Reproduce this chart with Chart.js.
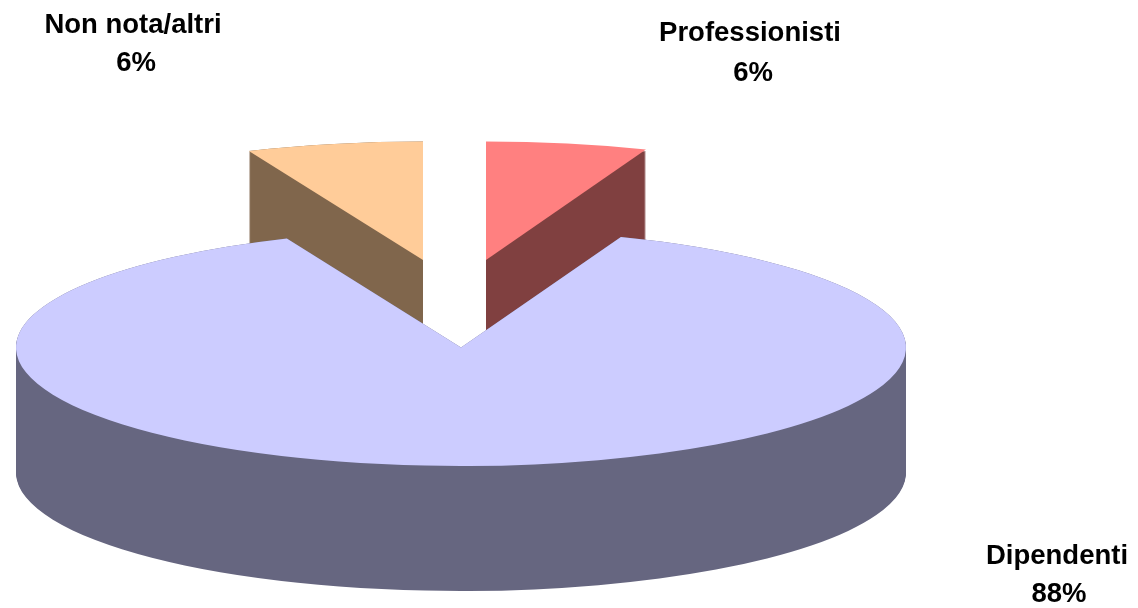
<!DOCTYPE html>
<html>
<head>
<meta charset="utf-8">
<style>
  html, body { margin: 0; padding: 0; background: #fff; }
  canvas { display: block; }
</style>
<script src="https://cdn.jsdelivr.net/npm/chart.js@4"></script>
</head>
<body>
<canvas id="pieChart" width="1138" height="608"></canvas>
<script>
// Data
var categories = ['Professionisti', 'Dipendenti', 'Non nota/altri'];
var shares = [5.85, 87.75, 6.4];

// Colours, same order as categories
var topColors = ['#FF8080', '#CCCCFF', '#FFCC99'];
var wallColors = ['#804040', '#666680', '#80664C'];

// Fake 3D view: ellipse radii, wall depth, where each slice's apex lands
var radiusX = 445;
var radiusY = 118.5;
var depth = 125;
var apexes = [[486, 260], [461, 347.5], [423, 260]];
var wallGaps = [2, 0, 0];
// name x, name baseline, percent x, percent baseline
var labelSpots = [[750, 41, 753, 81], [1057, 564, 1059, 602], [133, 33, 136, 71]];

function drawSlice(ctx, el, i, shift, color) {
  var slice = Object.create(el);
  slice.options = Object.create(el.options);
  slice.options.backgroundColor = color;
  ctx.save();
  ctx.translate(apexes[i][0], apexes[i][1] + shift);
  ctx.scale(radiusX / el.outerRadius, radiusY / el.outerRadius);
  ctx.translate(-el.x, -el.y);
  slice.draw(ctx);
  ctx.restore();
}

function drawBlock(chart, arcs, i) {
  // walls go on a scratch canvas and get one flat fill, stacking them directly leaves streaks
  var layer = document.createElement('canvas');
  layer.width = chart.width;
  layer.height = chart.height;
  var lctx = layer.getContext('2d');
  for (var s = depth; s >= wallGaps[i]; s--) {
    drawSlice(lctx, arcs[i], i, s, wallColors[i]);
  }
  lctx.globalCompositeOperation = 'source-in';
  lctx.fillStyle = wallColors[i];
  lctx.fillRect(0, 0, layer.width, layer.height);
  chart.ctx.drawImage(layer, 0, 0);
  drawSlice(chart.ctx, arcs[i], i, 0, topColors[i]);
}

var pie3d = {
  id: 'pie3d',
  beforeDatasetsDraw: function(chart) {
    var arcs = chart.getDatasetMeta(0).data;
    // back slices first, the big one sits in front of them
    drawBlock(chart, arcs, 0);
    drawBlock(chart, arcs, 2);
    drawBlock(chart, arcs, 1);
    return false;
  },
  afterDraw: function(chart) {
    var ctx = chart.ctx;
    ctx.save();
    ctx.fillStyle = '#000';
    ctx.font = 'bold 27.5px "Liberation Sans", Arial, sans-serif';
    ctx.textAlign = 'center';
    ctx.textBaseline = 'alphabetic';
    categories.forEach(function(name, i) {
      ctx.fillText(name, labelSpots[i][0], labelSpots[i][1]);
      ctx.fillText(Math.round(shares[i]) + '%', labelSpots[i][2], labelSpots[i][3]);
    });
    ctx.restore();
  }
};

var ctx = document.getElementById('pieChart').getContext('2d');
var pieChart = new Chart(ctx, {
  type: 'pie',
  data: {
    labels: categories,
    datasets: [{
      data: shares,
      backgroundColor: topColors,
      borderWidth: 0
    }]
  },
  options: {
    responsive: false,
    animation: false,
    plugins: {
      legend: { display: false },
      tooltip: { enabled: false }
    }
  },
  plugins: [pie3d]
});
</script>
</body>
</html>
